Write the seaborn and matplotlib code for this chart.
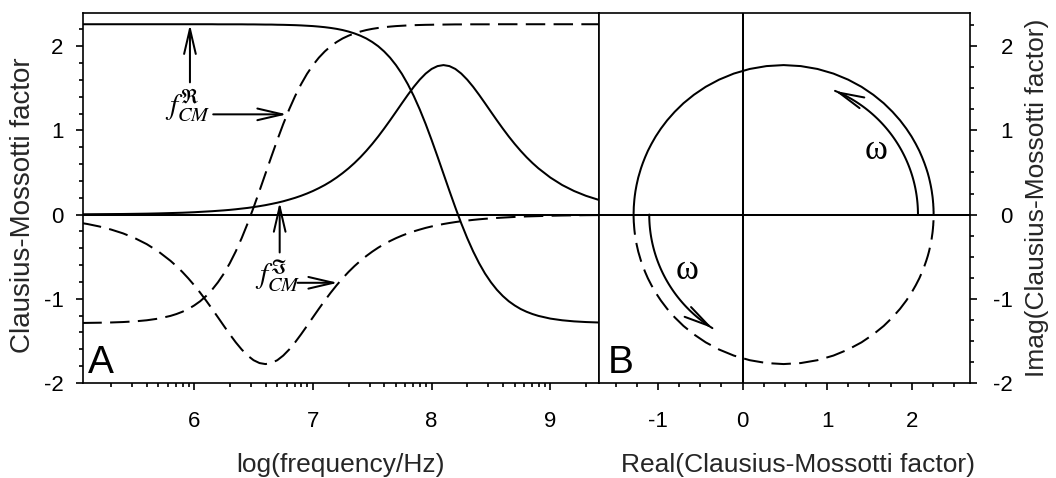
import numpy as np
import matplotlib
matplotlib.use("Agg")
import matplotlib.pyplot as plt
from matplotlib.ticker import MultipleLocator, FixedLocator
import seaborn as sns

# ---------------- data ----------------
log_freq = [4.0, 4.3, 4.6, 4.8, 5.0, 5.1, 5.2, 5.3, 5.4, 5.5, 5.6, 5.7, 5.8,
            5.85, 5.9, 5.95, 6.0, 6.05, 6.1, 6.15, 6.2, 6.25, 6.3, 6.35, 6.4, 6.45,
            6.5, 6.55, 6.6, 6.65, 6.7, 6.75, 6.8, 6.85, 6.9, 6.95, 7.0, 7.05, 7.1,
            7.15, 7.2, 7.25, 7.3, 7.35, 7.4, 7.45, 7.5, 7.55, 7.6, 7.65, 7.7, 7.75,
            7.8, 7.85, 7.9, 7.95, 8.0, 8.05, 8.1, 8.15, 8.2, 8.25, 8.3, 8.35, 8.4,
            8.45, 8.5, 8.55, 8.6, 8.65, 8.7, 8.75, 8.8, 8.85,
            8.9, 9.0, 9.1, 9.2, 9.3, 9.4, 9.5, 9.7, 10.0, 10.3, 10.6]

# solid curves: real and imaginary part of the high-frequency dispersion
re_solid = [2.260, 2.260, 2.260, 2.260, 2.260, 2.260, 2.260, 2.260, 2.260, 2.260, 2.260, 2.260, 2.260,
            2.260, 2.260, 2.260, 2.260, 2.260, 2.260, 2.260, 2.259, 2.259, 2.259, 2.259, 2.259, 2.258,
            2.258, 2.257, 2.256, 2.256, 2.254, 2.253, 2.251, 2.249, 2.246, 2.242, 2.238, 2.232, 2.225,
            2.216, 2.205, 2.191, 2.173, 2.151, 2.124, 2.091, 2.049, 1.999, 1.937, 1.863, 1.774, 1.670,
            1.547, 1.407, 1.249, 1.075, 0.886, 0.688, 0.485, 0.282, 0.084, -0.105, -0.279, -0.437, -0.577,
            -0.700, -0.804, -0.893, -0.967, -1.029, -1.079, -1.121, -1.154, -1.181,
            -1.203, -1.235, -1.255, -1.268, -1.276, -1.281, -1.284, -1.288, -1.289, -1.290, -1.290]
im_solid = [0.000, 0.001, 0.001, 0.002, 0.003, 0.004, 0.005, 0.006, 0.007, 0.009, 0.011, 0.014, 0.018,
            0.020, 0.022, 0.025, 0.028, 0.032, 0.036, 0.040, 0.045, 0.050, 0.056, 0.063, 0.071, 0.079,
            0.089, 0.100, 0.112, 0.126, 0.141, 0.158, 0.178, 0.199, 0.223, 0.250, 0.280, 0.314, 0.351,
            0.393, 0.440, 0.492, 0.549, 0.612, 0.681, 0.757, 0.839, 0.927, 1.021, 1.119, 1.220, 1.322,
            1.422, 1.517, 1.602, 1.674, 1.729, 1.763, 1.775, 1.763, 1.729, 1.674, 1.602, 1.517, 1.422,
            1.322, 1.220, 1.119, 1.021, 0.927, 0.839, 0.757, 0.681, 0.612,
            0.549, 0.440, 0.351, 0.280, 0.223, 0.178, 0.141, 0.089, 0.045, 0.022, 0.011]

# dashed curves: real and imaginary part of the low-frequency dispersion
re_dashed = [-1.290, -1.290, -1.290, -1.289, -1.288, -1.286, -1.284, -1.281, -1.276, -1.268, -1.255, -1.235, -1.203,
             -1.181, -1.154, -1.121, -1.079, -1.029, -0.967, -0.893, -0.804, -0.700, -0.577, -0.437, -0.279, -0.105,
             0.084, 0.282, 0.485, 0.688, 0.886, 1.075, 1.249, 1.407, 1.547, 1.670, 1.774, 1.863, 1.937,
             1.999, 2.049, 2.091, 2.124, 2.151, 2.173, 2.191, 2.205, 2.216, 2.225, 2.232, 2.238, 2.242,
             2.246, 2.249, 2.251, 2.253, 2.254, 2.256, 2.256, 2.257, 2.258, 2.258, 2.259, 2.259, 2.259,
             2.259, 2.259, 2.260, 2.260, 2.260, 2.260, 2.260, 2.260, 2.260,
             2.260, 2.260, 2.260, 2.260, 2.260, 2.260, 2.260, 2.260, 2.260, 2.260, 2.260]
im_dashed = [-0.009, -0.018, -0.036, -0.056, -0.089, -0.112, -0.141, -0.178, -0.223, -0.280, -0.351, -0.440, -0.549,
             -0.612, -0.681, -0.757, -0.839, -0.927, -1.021, -1.119, -1.220, -1.322, -1.422, -1.517, -1.602, -1.674,
             -1.729, -1.763, -1.775, -1.763, -1.729, -1.674, -1.602, -1.517, -1.422, -1.322, -1.220, -1.119, -1.021,
             -0.927, -0.839, -0.757, -0.681, -0.612, -0.549, -0.492, -0.440, -0.393, -0.351, -0.314, -0.280, -0.250,
             -0.223, -0.199, -0.178, -0.158, -0.141, -0.126, -0.112, -0.100, -0.089, -0.079, -0.071, -0.063, -0.056,
             -0.050, -0.045, -0.040, -0.036, -0.032, -0.028, -0.025, -0.022, -0.020,
             -0.018, -0.014, -0.011, -0.009, -0.007, -0.006, -0.005, -0.003, -0.001, -0.001, 0.000]

left_xticks = [6, 7, 8, 9]
right_xticks = [-1, 0, 1, 2]
yticks = [-2, -1, 0, 1, 2]

# annotation anchors (data coordinates)
fre_label = (5.75, 1.19)
fre_arrow_up = ((5.964, 1.57), (5.964, 2.257))
fre_arrow_right = ((6.16, 1.19), (6.78, 1.19))
fim_label = (6.51, -0.81)
fim_arrow_up = ((6.72, -0.45), (6.72, 0.146))
fim_arrow_right = ((6.87, -0.81), (7.21, -0.81))
arc_center = (0.485, 0.0)
arc_radius = 1.59
upper_arc = (0.0, 67.5)
lower_arc = (180.0, 238.0)
omega_upper = (1.578, 0.76)
omega_lower = (-0.663, -0.665)

# ---------------- style ----------------
sns.set_theme(style="ticks")
plt.rcParams.update({
    "font.family": ["Liberation Sans", "DejaVu Sans"],
    "axes.unicode_minus": False,
    "mathtext.fontset": "stix",
    "lines.scale_dashes": False,
    "axes.linewidth": 1.2,
    "axes.edgecolor": "black",
    "xtick.color": "black",
    "ytick.color": "black",
    "xtick.direction": "out",
    "ytick.direction": "out",
    "axes.facecolor": "white",
    "figure.facecolor": "white",
    "text.color": "black",
})

LW = 1.45
DASH = (0, (14, 6))
ARROW = dict(arrowstyle="->,head_length=1.8,head_width=0.42", lw=LW, color="black",
             shrinkA=0, shrinkB=0, mutation_scale=10)
TICK_FS = 16
LABEL_FS = 19

fig = plt.figure(figsize=(10.56, 4.78), dpi=100)
ax1 = fig.add_axes([0.0786, 0.1987, 0.4886, 0.7735])
ax2 = fig.add_axes([0.5672, 0.1987, 0.3513, 0.7735])

# ---------------- panel A ----------------
for yvals, ls in ((re_solid, "-"), (im_solid, "-"), (re_dashed, DASH), (im_dashed, DASH)):
    sns.lineplot(x=log_freq, y=yvals, ax=ax1, color="black", lw=LW, linestyle=ls,
                 estimator=None, sort=False)
ax1.axhline(0, color="black", lw=LW)

ax1.set_xlim(5.063, 9.41)
ax1.set_ylim(-2, 2.39)
ax1.set_xticks(left_xticks)
minor_pos = [n + np.log10(k) for n in range(5, 10) for k in range(2, 10)]
ax1.xaxis.set_minor_locator(FixedLocator(minor_pos))
ax1.set_yticks(yticks)
ax1.yaxis.set_minor_locator(MultipleLocator(0.2))
ax1.tick_params(which="major", length=5, width=1.2, labelsize=TICK_FS)
ax1.tick_params(which="minor", length=3, width=1.2)
ax1.tick_params(axis="x", which="both", pad=15)
ax1.tick_params(axis="y", which="both", pad=9)

ax1.set_xlabel("log(frequency/Hz)", fontsize=LABEL_FS)
ax1.xaxis.set_label_coords(0.5, -0.189)
ax1.set_ylabel("Clausius-Mossotti factor", fontsize=LABEL_FS + 1)
ax1.yaxis.set_label_coords(-0.092, 0.48)

ax1.text(0.0097, 0.027, "A", transform=ax1.transAxes, fontsize=28, ha="left", va="baseline")

ax1.text(*fre_label, r"$f^{\Re}_{CM}$", fontsize=21, ha="left", va="baseline")
ax1.annotate("", xy=fre_arrow_up[1], xytext=fre_arrow_up[0], arrowprops=ARROW)
ax1.annotate("", xy=fre_arrow_right[1], xytext=fre_arrow_right[0], arrowprops=ARROW)
ax1.text(*fim_label, r"$f^{\Im}_{CM}$", fontsize=21, ha="left", va="baseline")
ax1.annotate("", xy=fim_arrow_up[1], xytext=fim_arrow_up[0], arrowprops=ARROW)
ax1.annotate("", xy=fim_arrow_right[1], xytext=fim_arrow_right[0], arrowprops=ARROW)

# ---------------- panel B ----------------
sns.lineplot(x=re_solid, y=im_solid, ax=ax2, color="black", lw=LW, estimator=None, sort=False)
sns.lineplot(x=re_dashed, y=im_dashed, ax=ax2, color="black", lw=LW, linestyle=DASH,
             estimator=None, sort=False)
ax2.axhline(0, color="black", lw=LW)
ax2.axvline(0, color="black", lw=LW)

cx, cy = arc_center
for a0, a1 in (upper_arc, lower_arc):
    th = np.radians(np.linspace(a0, a1, 120))
    ax2.plot(cx + arc_radius * np.cos(th), cy + arc_radius * np.sin(th), color="black", lw=LW)
    te, tb = np.radians(a1), np.radians(a1 - 3)
    ax2.annotate("", xy=(cx + arc_radius * np.cos(te), cy + arc_radius * np.sin(te)),
                 xytext=(cx + arc_radius * np.cos(tb), cy + arc_radius * np.sin(tb)),
                 arrowprops=ARROW)

ax2.text(*omega_upper, "ω", fontsize=25, family="Liberation Serif", ha="center", va="center")
ax2.text(*omega_lower, "ω", fontsize=25, family="Liberation Serif", ha="center", va="center")
ax2.text(0.024, 0.027, "B", transform=ax2.transAxes, fontsize=28, ha="left", va="baseline")

ax2.set_xlim(-1.70, 2.69)
ax2.set_ylim(-2, 2.39)
ax2.set_xticks(right_xticks)
ax2.xaxis.set_minor_locator(MultipleLocator(0.25))
ax2.set_yticks(yticks)
ax2.yaxis.set_minor_locator(MultipleLocator(0.25))
ax2.yaxis.tick_right()
ax2.yaxis.set_label_position("right")
ax2.tick_params(which="major", length=5, width=1.2, labelsize=TICK_FS)
ax2.tick_params(which="minor", length=3, width=1.2)
ax2.tick_params(axis="x", which="both", pad=15)
ax2.tick_params(axis="y", which="both", pad=26)
for lab in ax2.get_yticklabels():
    lab.set_horizontalalignment("right")

ax2.set_xlabel("Real(Clausius-Mossotti factor)", fontsize=LABEL_FS)
ax2.xaxis.set_label_coords(0.536, -0.189)
ax2.set_ylabel("Imag(Clausius-Mossotti factor)", fontsize=LABEL_FS)
ax2.yaxis.set_label_coords(1.148, 0.5)

fig.savefig("out.png", dpi=100)
